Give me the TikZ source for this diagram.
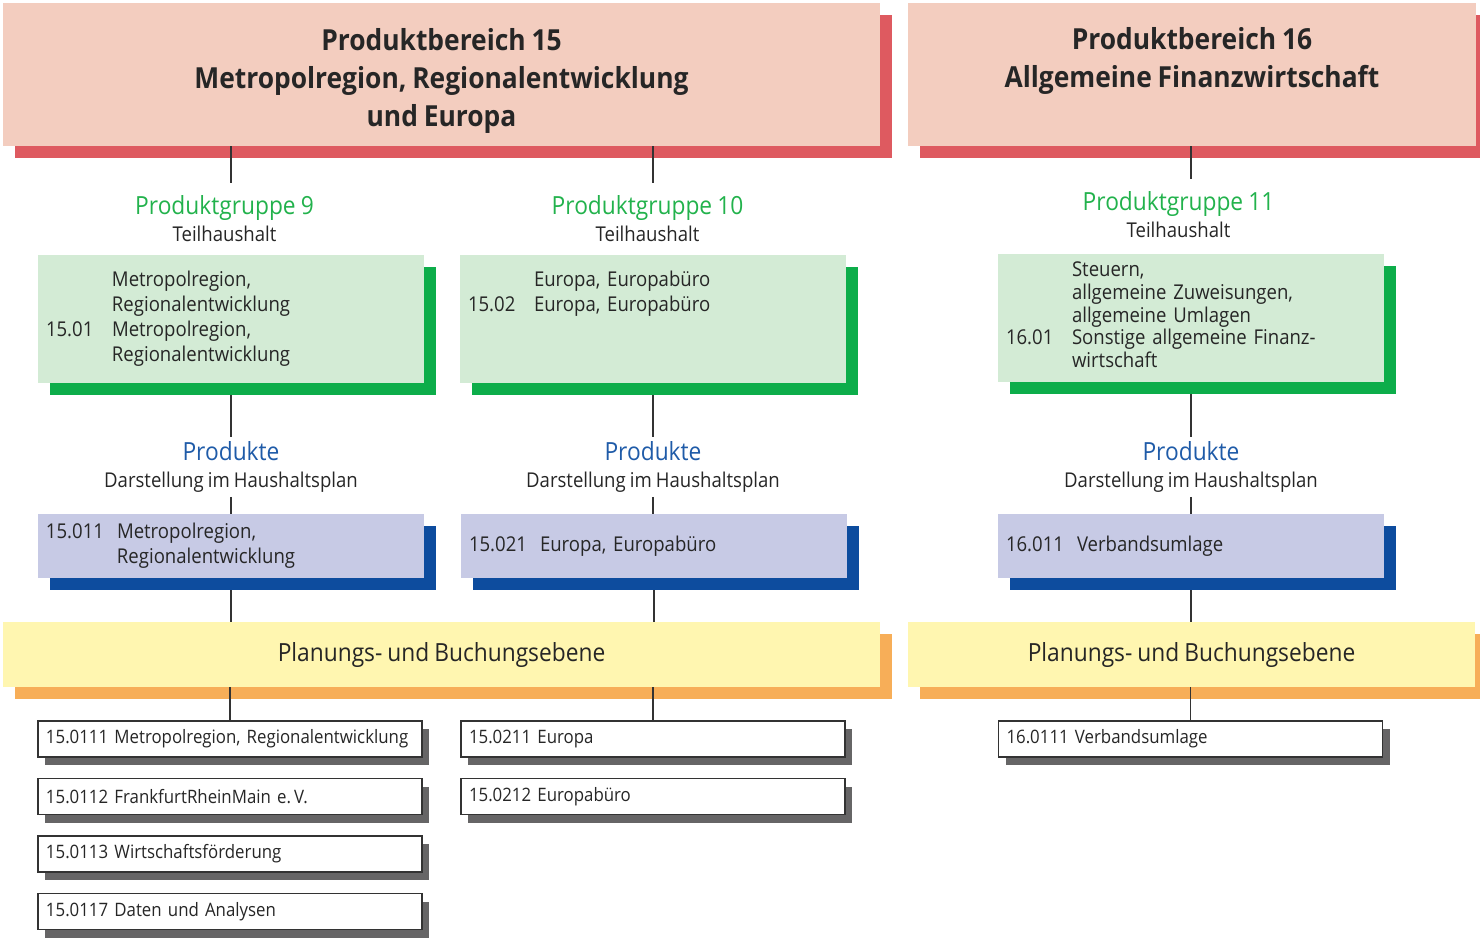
\documentclass[tikz,border=0pt]{standalone}
\usepackage{fontspec}
\setmainfont{Open Sans}[FakeStretch=0.91, WordSpace=0.85]
\usetikzlibrary{shadows}
\frenchspacing

\definecolor{bereichfill}{HTML}{F3CDBF}
\definecolor{bereichshadow}{HTML}{DE5A60}
\definecolor{gruppefill}{HTML}{D3EBD5}
\definecolor{gruppeshadow}{HTML}{0DAD4A}
\definecolor{produktfill}{HTML}{C7CAE5}
\definecolor{produktshadow}{HTML}{0D4C9E}
\definecolor{ebenefill}{HTML}{FFF6B0}
\definecolor{ebeneshadow}{HTML}{F7AE58}
\definecolor{kontoshadow}{HTML}{666566}
\definecolor{kontoborder}{HTML}{333333}
\definecolor{textdark}{HTML}{262626}
\definecolor{gruppetext}{HTML}{22B24C}
\definecolor{produkttext}{HTML}{1F5BA8}

\newcommand{\grpfont}{\fontsize{12.5}{15}\selectfont}

\begin{document}
\begin{tikzpicture}
    [
        x=0.5pt, y=-0.5pt,
        bereich/.style = {fill=bereichfill, inner sep=0pt, minimum height=71.5pt, align=center, text=textdark, font=\fontsize{14.5}{19}\selectfont\bfseries, drop shadow={shadow xshift=6pt, shadow yshift=-6pt, fill=bereichshadow, opacity=1}},
        gruppe/.style = {fill=gruppefill, inner xsep=4pt, inner ysep=0pt, minimum height=64pt, text width=185pt, align=left, text=textdark, font=\fontsize{10.2}{12.5}\selectfont, drop shadow={shadow xshift=6pt, shadow yshift=-6pt, fill=gruppeshadow, opacity=1}},
        produkt/.style = {fill=produktfill, inner xsep=4pt, inner ysep=0pt, minimum height=32pt, text width=185pt, align=left, text=textdark, font=\fontsize{10.2}{12.5}\selectfont, drop shadow={shadow xshift=6pt, shadow yshift=-6pt, fill=produktshadow, opacity=1}},
        ebene/.style = {fill=ebenefill, inner sep=0pt, minimum height=32.5pt, text=textdark, font=\fontsize{12.5}{15}\selectfont, drop shadow={shadow xshift=6pt, shadow yshift=-6pt, fill=ebeneshadow, opacity=1}},
        konto/.style = {fill=white, draw=kontoborder, line width=0.75pt, inner xsep=4pt, inner ysep=0pt, minimum height=18pt, text width=184pt, align=left, text=textdark, font=\fontsize{9.25}{11}\selectfont, drop shadow={shadow xshift=3.5pt, shadow yshift=-4pt, fill=kontoshadow, opacity=1}},
        kopf/.style = {inner xsep=0pt, inner ysep=2pt, align=center, text=textdark, font=\fontsize{10.2}{13.5}\selectfont},
        verbinder/.style = {draw=kontoborder, line width=0.6pt},
    ]

    \useasboundingbox (0,0) rectangle (1480,938);

    \node[bereich, minimum width=438.5pt] (pb15) at (441.5,74.5) {\rule{0pt}{17pt}Produktbereich 15\\Metropolregion, Regionalentwicklung\\und Europa};
    \node[bereich, minimum width=284pt] (pb16) at (1192,74.5) {\rule{0pt}{19pt}Produktbereich 16\\Allgemeine Finanzwirtschaft\\\strut};

    \node[kopf] (g9lab) at (224.5,218.5) {{\color{gruppetext}\grpfont Produktgruppe 9}\\Teilhaushalt};
    \node[kopf] (g10lab) at (647.5,218.5) {{\color{gruppetext}\grpfont Produktgruppe 10}\\Teilhaushalt};
    \node[kopf] (g11lab) at (1178.5,214.5) {{\color{gruppetext}\grpfont Produktgruppe 11}\\Teilhaushalt};

    \node[gruppe] (g9) at (231,319) {\begin{tabular}{@{}p{33pt}@{}l@{}}
        & Metropolregion,\\
        & Regionalentwicklung\\
        15.01 & Metropolregion,\\
        & Regionalentwicklung
    \end{tabular}};
    \node[gruppe] (g10) at (653,319) {\begin{tabular}{@{}p{33pt}@{}l@{}}
        & Europa, Europabüro\\
        15.02 & Europa, Europabüro\\
        & \\
        &
    \end{tabular}};
    \node[gruppe, font=\fontsize{10.2}{11.4}\selectfont] (g11) at (1191,317.5) {\begin{tabular}{@{}p{33pt}@{}l@{}}
        & Steuern,\\
        & allgemeine Zuweisungen,\\
        & allgemeine Umlagen\\
        16.01 & Sonstige allgemeine Finanz-\\
        & wirtschaft
    \end{tabular}};

    \node[kopf] (p1lab) at (231,467) {{\color{produkttext}\grpfont Produkte}\\Darstellung im Haushaltsplan};
    \node[kopf] (p2lab) at (653,467) {{\color{produkttext}\grpfont Produkte}\\Darstellung im Haushaltsplan};
    \node[kopf] (p3lab) at (1191,467) {{\color{produkttext}\grpfont Produkte}\\Darstellung im Haushaltsplan};

    \node[produkt] (p1) at (231,546) {\begin{tabular}{@{}p{35.5pt}@{}l@{}}
        15.011 & Metropolregion,\\
        & Regionalentwicklung
    \end{tabular}};
    \node[produkt] (p2) at (654,546) {\begin{tabular}{@{}p{35.5pt}@{}l@{}}
        15.021 & Europa, Europabüro
    \end{tabular}};
    \node[produkt] (p3) at (1191,546) {\begin{tabular}{@{}p{35.5pt}@{}l@{}}
        16.011 & Verbandsumlage
    \end{tabular}};

    \node[ebene, minimum width=438.5pt] (e1) at (441.5,654.5) {Planungs- und Buchungsebene};
    \node[ebene, minimum width=283.5pt] (e2) at (1191.5,654.5) {Planungs- und Buchungsebene};

    \node[konto] (k11) at (230,739) {15.0111 Metropolregion, Regionalentwicklung};
    \node[konto] (k12) at (230,796.5) {15.0112 FrankfurtRheinMain e.\,V.};
    \node[konto] (k13) at (230,854) {15.0113 Wirtschaftsförderung};
    \node[konto] (k17) at (230,911.5) {15.0117 Daten und Analysen};
    \node[konto] (k21) at (653,739) {15.0211 Europa};
    \node[konto] (k22) at (653,796.5) {15.0212 Europabüro};
    \node[konto] (k31) at (1190.5,739) {16.0111 Verbandsumlage};

    \draw[verbinder] (pb15.south -| g9.north) -- ([yshift=4pt]g9lab.north -| g9.north);
    \draw[verbinder] (pb15.south -| g10.north) -- ([yshift=4pt]g10lab.north -| g10.north);
    \draw[verbinder] (pb16.south -| g11.north) -- ([yshift=4pt]g11lab.north -| g11.north);

    \draw[verbinder] ([yshift=-6pt]g9.south) -- (p1lab.north -| g9.south);
    \draw[verbinder] ([yshift=-6pt]g10.south) -- (p2lab.north -| g10.south);
    \draw[verbinder] ([yshift=-6pt]g11.south) -- (p3lab.north -| g11.south);

    \draw[verbinder] (p1lab.south) -- (p1.north -| p1lab.south);
    \draw[verbinder] (p2lab.south) -- (p2.north -| p2lab.south);
    \draw[verbinder] (p3lab.south) -- (p3.north -| p3lab.south);

    \draw[verbinder] ([yshift=-6pt]p1.south) -- (e1.north -| p1.south);
    \draw[verbinder] ([yshift=-6pt]p2.south) -- (e1.north -| p2.south);
    \draw[verbinder] ([yshift=-6pt]p3.south) -- (e2.north -| p3.south);

    \draw[verbinder] (e1.south -| k11.north) -- (k11.north);
    \draw[verbinder] (e1.south -| k21.north) -- (k21.north);
    \draw[verbinder] (e2.south -| k31.north) -- (k31.north);

\end{tikzpicture}
\end{document}
